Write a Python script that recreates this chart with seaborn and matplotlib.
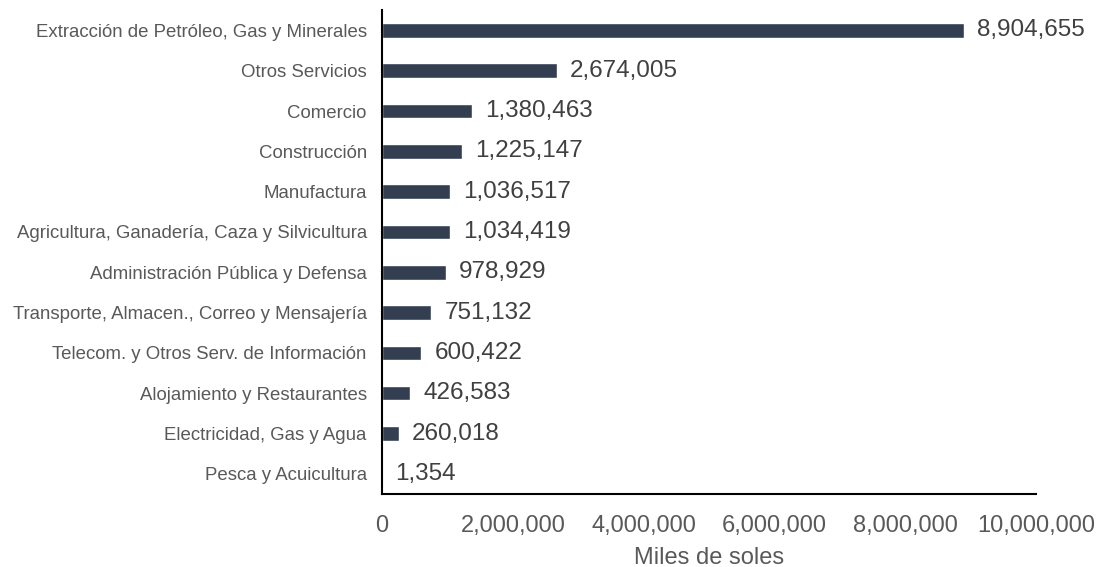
import matplotlib
matplotlib.use("Agg")
import matplotlib.pyplot as plt
import seaborn as sns
import pandas as pd
from matplotlib.ticker import FuncFormatter

sectores = [
    "Extracción de Petróleo, Gas y Minerales",
    "Otros Servicios",
    "Comercio",
    "Construcción",
    "Manufactura",
    "Agricultura, Ganadería, Caza y Silvicultura",
    "Administración Pública y Defensa",
    "Transporte, Almacen., Correo y Mensajería",
    "Telecom. y Otros Serv. de Información",
    "Alojamiento y Restaurantes",
    "Electricidad, Gas y Agua",
    "Pesca y Acuicultura",
]
valores = [8904655, 2674005, 1380463, 1225147, 1036517, 1034419,
           978929, 751132, 600422, 426583, 260018, 1354]
x_ticks = [0, 2000000, 4000000, 6000000, 8000000, 10000000]

df = pd.DataFrame({"sector": sectores, "valor": valores})

sns.set_theme(style="white")
plt.rcParams["font.family"] = ["Liberation Sans", "DejaVu Sans"]

fig = plt.figure(figsize=(10.98, 5.67), dpi=100)
ax = fig.add_axes([0.348, 0.1287, 0.5955, 0.8533])

sns.barplot(data=df, x="valor", y="sector", orient="h", color="#333F50",
            width=0.36, saturation=1, ax=ax)

for i, v in enumerate(valores):
    ax.text(v + 200000, i, f"{v:,}", va="center", ha="left",
            fontsize=17.5, color="#404040")

ax.set_xlim(0, 10000000)
ax.set_ylim(11.5, -0.5)
ax.set_xticks(x_ticks)
ax.xaxis.set_major_formatter(FuncFormatter(lambda x, p: f"{int(x):,}"))
ax.tick_params(axis="x", labelsize=17, colors="#595959", length=0, pad=15)
ax.tick_params(axis="y", labelsize=13.4, colors="#595959", length=0, pad=11)
ax.set_ylabel("")
ax.set_xlabel("Miles de soles", fontsize=17, color="#595959", labelpad=7)

for s in ["top", "right"]:
    ax.spines[s].set_visible(False)
for s in ["left", "bottom"]:
    ax.spines[s].set_color("black")
    ax.spines[s].set_linewidth(1.5)

fig.savefig("out.png", dpi=100, facecolor="white")
